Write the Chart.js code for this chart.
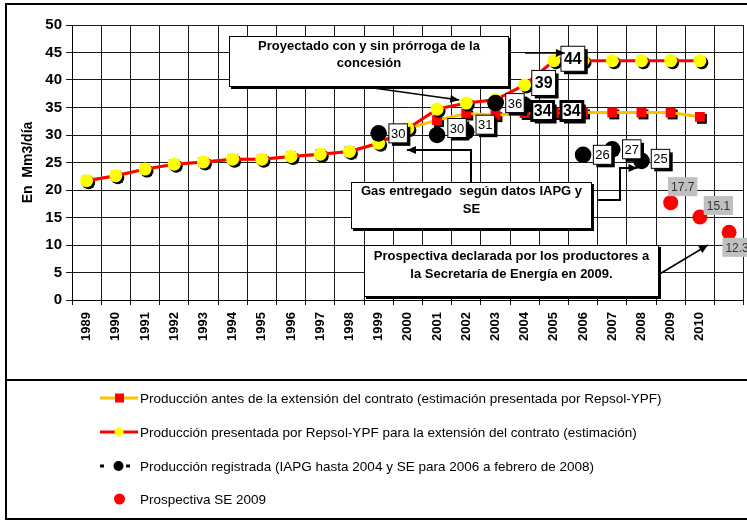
<!DOCTYPE html>
<html><head><meta charset="utf-8">
<script src="https://cdn.jsdelivr.net/npm/chart.js@4/dist/chart.umd.min.js"></script>
<style>
html,body{margin:0;padding:0;overflow:hidden;background:#fff;width:747px;height:521px}
#wrap{position:relative;width:752px;height:521px}
</style></head><body>
<div id="wrap"><canvas id="c"></canvas></div>
<script>
// ---------- DATA ----------
const xCategories = ['1989','1990','1991','1992','1993','1994','1995','1996','1997','1998','1999','2000','2001','2002','2003','2004','2005','2006','2007','2008','2009','2010',''];
const produccionAntes = [21.7,22.6,23.8,24.7,25.1,25.6,25.6,26.1,26.5,27.0,28.5,31.2,32.7,33.9,33.6,34.0,34.0,34.1,34.1,34.1,34.1,33.3,null];
const produccionExtension = [21.7,22.6,23.8,24.7,25.1,25.6,25.6,26.1,26.5,27.0,28.5,31.2,34.7,35.8,36.4,39.1,43.5,43.5,43.5,43.5,43.5,43.5,null];
const produccionRegistrada = [null,null,null,null,null,null,null,null,null,null,30.3,null,30.0,30.6,35.8,35.4,null,26.4,27.4,25.3,null,null,null];
const prospectivaSE = [null,null,null,null,null,null,null,null,null,null,null,null,null,null,null,null,null,null,null,null,17.7,15.1,12.3];
const yMin = 0, yMax = 50, yStep = 5;
const yTitle = 'En  Mm3/día';
const seriesNames = [
  'Producción antes de la extensión del contrato (estimación presentada por Repsol-YPF)',
  'Producción presentada por Repsol-YPF para la extensión del contrato (estimación)',
  'Producción registrada (IAPG hasta 2004 y SE para 2006 a febrero de 2008)',
  'Prospectiva SE 2009'
];
const annotationTexts = [
  ['Proyectado con y sin prórroga de la', 'concesión'],
  ['Gas entregado  según datos IAPG y', 'SE'],
  ['Prospectiva declarada por los productores a', 'la Secretaría de Energía en 2009.']
];
// indices of labelled points
const labelIdxRegistrada = [10,12,13,14,17,18,19];
const labelIdxBold = [15,16];
const labelIdxProspectiva = [20,21,22];

// ---------- STYLE ----------
const FONT = '"Liberation Sans", Arial, sans-serif';
const GOLD = '#FFC000', RED = '#FF0000', YEL = '#FFFF00';

const H = Chart.helpers;

const shadowPlugin = {
  id: 'pointShadow',
  beforeDatasetDraw(chart, args) {
    const ds = chart.data.datasets[args.index];
    if (!ds.pointShadow) return;
    const ctx = chart.ctx;
    ctx.save();
    ctx.fillStyle = '#000'; ctx.strokeStyle = '#000';
    args.meta.data.forEach((el, i) => {
      if (ds.data[i] == null) return;
      const o = el.options;
      H.drawPoint(ctx, {pointStyle: o.pointStyle, radius: o.radius, rotation: 0, borderWidth: 0}, el.x + ds.pointShadow, el.y + ds.pointShadow);
    });
    ctx.restore();
  }
};

const labelPlugin = {
  id: 'boxLabels',
  afterDatasetsDraw(chart) {
    const ctx = chart.ctx;
    const order = [2, 3, 0, 1];
    order.forEach(di => {
      const ds = chart.data.datasets[di];
      const cfg = ds.boxLabels; if (!cfg) return;
      const meta = chart.getDatasetMeta(di);
      cfg.indices.forEach(i => {
        const v = ds.data[i]; if (v == null) return;
        const el = meta.data[i];
        const off = (cfg.offsets && cfg.offsets[i]) || cfg.offset;
        const cx = el.x + off[0], cy = el.y + off[1];
        const text = cfg.format(v);
        ctx.save();
        ctx.font = cfg.font;
        const tw = ctx.measureText(text).width;
        const w = tw + cfg.padX * 2, h = cfg.height;
        const x = cx - w / 2, y = cy - h / 2;
        if (cfg.shadow) { ctx.fillStyle = '#000'; ctx.fillRect(x + cfg.shadow, y + cfg.shadow, w, h); }
        ctx.fillStyle = cfg.fill; ctx.fillRect(x, y, w, h);
        if (cfg.borderWidth) { ctx.lineWidth = cfg.borderWidth; ctx.strokeStyle = '#000'; ctx.strokeRect(x, y, w, h); }
        ctx.fillStyle = cfg.color; ctx.textAlign = 'center'; ctx.textBaseline = 'middle';
        ctx.fillText(text, cx, cy + 1);
        ctx.restore();
      });
    });
  }
};

function arrow(ctx, pts, lw) {
  ctx.save();
  ctx.strokeStyle = '#000'; ctx.fillStyle = '#000'; ctx.lineWidth = lw;
  ctx.beginPath(); ctx.moveTo(pts[0][0], pts[0][1]);
  for (let k = 1; k < pts.length; k++) ctx.lineTo(pts[k][0], pts[k][1]);
  ctx.stroke();
  const [x1, y1] = pts[pts.length - 2], [x2, y2] = pts[pts.length - 1];
  const a = Math.atan2(y2 - y1, x2 - x1), L = 9, W = 4;
  ctx.beginPath();
  ctx.moveTo(x2, y2);
  ctx.lineTo(x2 - L * Math.cos(a) + W * Math.sin(a), y2 - L * Math.sin(a) - W * Math.cos(a));
  ctx.lineTo(x2 - L * Math.cos(a) - W * Math.sin(a), y2 - L * Math.sin(a) + W * Math.cos(a));
  ctx.closePath(); ctx.fill();
  ctx.restore();
}
function textBox(ctx, x1, y1, x2, y2, lines, ly) {
  ctx.save();
  ctx.fillStyle = '#000'; ctx.fillRect(x1 + 2, y1 + 2, x2 - x1, y2 - y1);
  ctx.fillStyle = '#fff'; ctx.fillRect(x1, y1, x2 - x1, y2 - y1);
  ctx.strokeStyle = '#000'; ctx.lineWidth = 1; ctx.strokeRect(x1 + 0.5, y1 + 0.5, x2 - x1 - 1, y2 - y1 - 1);
  ctx.fillStyle = '#000'; ctx.font = 'bold 13px ' + FONT; ctx.textAlign = 'center'; ctx.textBaseline = 'middle';
  lines.forEach((t, k) => ctx.fillText(t, (x1 + x2) / 2, ly[k]));
  ctx.restore();
}

const annotationPlugin = {
  id: 'annotations',
  afterDatasetsDraw(chart) {
    const ctx = chart.ctx;
    const xs = chart.scales.x, ys = chart.scales.y;
    const px = i => xs.getPixelForValue(i);
    const py = v => ys.getPixelForValue(v);
    textBox(ctx, 229, 36, 509, 87, annotationTexts[0], [46, 63]);
    textBox(ctx, 351, 182, 592, 229, annotationTexts[1], [191, 209]);
    textBox(ctx, 364, 245, 659, 297, annotationTexts[2], [256, 274]);
    // arrows
    arrow(ctx, [[366, 87], [px(13) - 7, py(produccionExtension[13]) - 3]], 1.5);
    arrow(ctx, [[525, 53], [px(16) + 11, 53]], 1.5);
    arrow(ctx, [[471, 182], [471, 150], [407, 150]], 2);
    arrow(ctx, [[598, 200], [620, 200], [620, 168], [px(19) - 4, 168]], 2);
    arrow(ctx, [[658, 275], [708, 245]], 1.5);
  }
};

const framePlugin = {
  id: 'frameLegend',
  afterDraw(chart) {
    const ctx = chart.ctx;
    ctx.save();
    ctx.strokeStyle = '#000'; ctx.lineWidth = 2;
    ctx.beginPath();
    ctx.moveTo(760, 4); ctx.lineTo(6, 4); ctx.lineTo(6, 519); ctx.lineTo(760, 519);
    ctx.moveTo(6, 380); ctx.lineTo(760, 380);
    ctx.stroke();
    // legend
    const rows = [398, 432, 466, 499];
    ctx.font = '13.5px ' + FONT; ctx.textBaseline = 'middle'; ctx.textAlign = 'left'; ctx.fillStyle = '#000';
    // 1
    ctx.lineWidth = 3; ctx.strokeStyle = GOLD;
    ctx.beginPath(); ctx.moveTo(100, rows[0]); ctx.lineTo(138, rows[0]); ctx.stroke();
    ctx.fillStyle = RED; ctx.fillRect(115, rows[0] - 4.5, 9, 9);
    // 2
    ctx.strokeStyle = RED;
    ctx.beginPath(); ctx.moveTo(100, rows[1]); ctx.lineTo(138, rows[1]); ctx.stroke();
    ctx.fillStyle = YEL; ctx.beginPath(); ctx.arc(119, rows[1], 4.5, 0, Math.PI * 2); ctx.fill();
    // 3
    ctx.fillStyle = '#000';
    ctx.fillRect(100, rows[2] - 1.5, 4, 3); ctx.fillRect(126, rows[2] - 1.5, 4, 3);
    ctx.beginPath(); ctx.arc(118.5, rows[2], 5, 0, Math.PI * 2); ctx.fill();
    // 4
    ctx.fillStyle = RED; ctx.beginPath(); ctx.arc(119.5, rows[3], 5.5, 0, Math.PI * 2); ctx.fill();
    ctx.fillStyle = '#000';
    seriesNames.forEach((t, k) => ctx.fillText(t, 140, rows[k] + 1));
    ctx.restore();
  }
};

new Chart(document.getElementById('c'), {
  type: 'line',
  data: {
    labels: xCategories,
    datasets: [
      {
        label: seriesNames[0], data: produccionAntes, order: 4,
        borderColor: GOLD, borderWidth: 3, tension: 0,
        pointStyle: 'rect', pointRadius: 7, pointHoverRadius: 7,
        pointBackgroundColor: RED, pointBorderColor: RED, pointBorderWidth: 0,
        pointShadow: 2,
        boxLabels: {indices: labelIdxBold, format: v => String(Math.round(v)), font: 'bold 16px ' + FONT,
          padX: 2, height: 19, fill: '#fff', borderWidth: 3, shadow: 3, color: '#000', offset: [18, -2]}
      },
      {
        label: seriesNames[1], data: produccionExtension, order: 3,
        borderColor: RED, borderWidth: 3, tension: 0,
        pointStyle: 'circle', pointRadius: 6.5, pointHoverRadius: 6.5,
        pointBackgroundColor: YEL, pointBorderColor: YEL, pointBorderWidth: 0,
        pointShadow: 2,
        boxLabels: {indices: labelIdxBold, format: v => String(Math.round(v)), font: 'bold 16px ' + FONT,
          padX: 3, height: 25, fill: '#fff', borderWidth: 1, shadow: 3, color: '#000', offset: [19, -2]}
      },
      {
        label: seriesNames[2], data: produccionRegistrada, order: 1,
        showLine: false, borderColor: '#000',
        pointStyle: 'circle', pointRadius: 8.3, pointHoverRadius: 8.3,
        pointBackgroundColor: '#000', pointBorderColor: '#000', pointBorderWidth: 0,
        boxLabels: {indices: labelIdxRegistrada, format: v => String(Math.round(v)), font: '13px ' + FONT,
          padX: 2, height: 19, fill: '#fff', borderWidth: 1, shadow: 3, color: '#000', offset: [19.5, 0],
          offsets: {12: [20, -7], 13: [19, -7], 19: [19, -2]}}
      },
      {
        label: seriesNames[3], data: prospectivaSE, order: 2,
        showLine: false, borderColor: RED,
        pointStyle: 'circle', pointRadius: 7.5, pointHoverRadius: 7.5,
        pointBackgroundColor: RED, pointBorderColor: RED, pointBorderWidth: 0,
        boxLabels: {indices: labelIdxProspectiva, format: v => v.toFixed(1), font: '12px ' + FONT,
          padX: 3, height: 19, fill: '#C0C0C0', borderWidth: 0, shadow: 0, color: '#333', offset: [12, -16],
          offsets: {21: [18.5, -11.5], 22: [8, 15]}}
      }
    ]
  },
  options: {
    responsive: true, maintainAspectRatio: false, animation: false,
    events: [],
    layout: {padding: {top: 25, left: 0, right: 1, bottom: 140}},
    plugins: {legend: {display: false}, tooltip: {enabled: false}},
    scales: {
      x: {
        type: 'category', offset: true,
        grid: {color: '#1a1a1a', lineWidth: 1, tickLength: 5, offset: true, drawTicks: true},
        border: {color: '#000', width: 1},
        ticks: {autoSkip: false, maxRotation: 90, minRotation: 90, padding: 7, color: '#000',
          font: {family: FONT, size: 13, weight: 'bold'}},
        afterFit(s) { s.height = 81; }
      },
      y: {
        min: yMin, max: yMax,
        grid: {color: '#1a1a1a', lineWidth: 1, tickLength: 6},
        border: {color: '#000', width: 1},
        ticks: {stepSize: yStep, padding: 4, color: '#000', font: {family: FONT, size: 15, weight: 'bold'}},
        title: {display: true, text: yTitle, color: '#000', padding: {top: 20, bottom: 0},
          font: {family: FONT, size: 14, weight: 'bold'}},
        afterFit(s) { s.width = 72; }
      }
    }
  },
  plugins: [shadowPlugin, labelPlugin, annotationPlugin, framePlugin]
});
</script>
</body></html>
